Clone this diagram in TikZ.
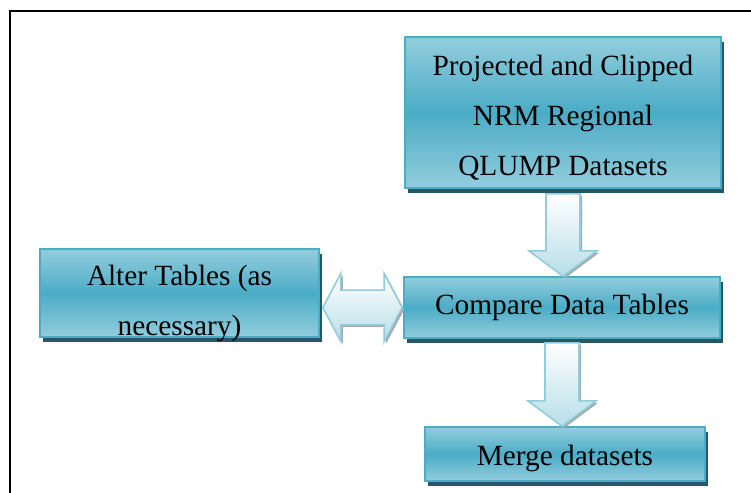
\documentclass[tikz,border=0pt]{standalone}
\usepackage{fontspec}
\setmainfont{Liberation Serif}
\usetikzlibrary{calc,shadows}

\definecolor{boxlight}{HTML}{93CDDD}
\definecolor{boxmid}{HTML}{4BACC6}
\definecolor{boxshade}{HTML}{215968}
\definecolor{flowlight}{HTML}{B7DEE8}
\definecolor{flowedge}{HTML}{92CDDC}
\definecolor{flowshade}{HTML}{A3ABAE}

\begin{document}
\begin{tikzpicture}[x=0.75pt,y=0.75pt,
    box/.style={draw=boxmid,line width=1.2pt,
      top color=boxlight,bottom color=boxlight,middle color=boxmid,
      drop shadow={shadow xshift=2.5pt,shadow yshift=-4pt,fill=boxshade,opacity=1},
      inner sep=0pt},
    txt/.style={font=\fontsize{22}{37.5}\selectfont,align=center,inner sep=0pt},
    flow/.style={draw=flowedge,line width=1.2pt,line join=miter,
      top color=white,bottom color=flowlight,
      drop shadow={shadow xshift=1.5pt,shadow yshift=-1.5pt,fill=flowshade,opacity=1}}]
    \useasboundingbox (0,0) rectangle (751,-493);
    % frame
    \draw[line width=1.5pt] (10,-493) -- (10,-11) -- (751,-11);

    % boxes
    \node[box,minimum width=237pt,minimum height=113.25pt] (proj) at (563,-112.5) {};
    \node[box,minimum width=209.25pt,minimum height=66pt] (alter) at (179.5,-293) {};
    \node[box,minimum width=237pt,minimum height=45.75pt] (compare) at (562,-307.5) {};
    \node[box,minimum width=210pt,minimum height=40.5pt] (merge) at (565,-454) {};

    % box texts
    \node[txt] at ([yshift=-3.75pt]proj.center) {Projected and Clipped\\NRM Regional\\QLUMP Datasets};
    \node[txt] at ([yshift=-7.5pt]alter.center) {Alter Tables (as\\necessary)};
    \node[txt] at (compare.center) {Compare Data Tables};
    \node[txt] at ([yshift=-3pt]merge.center) {Merge datasets};

    % block arrows
    \path[flow] let \p1=(proj.south), \p2=(compare.north) in
      ({\x1-12.75pt},{\y1-3.75pt}) -- ({\x1+12.75pt},{\y1-3.75pt})
      -- ({\x1+12.75pt},{\y2+19pt}) -- ({\x1+25.5pt},{\y2+19pt}) -- (\x1,\y2)
      -- ({\x1-25.5pt},{\y2+19pt}) -- ({\x1-12.75pt},{\y2+19pt}) -- cycle;
    \path[flow] let \p1=(compare.south), \p2=(merge.north) in
      ({\x1-12.75pt},{\y1-3pt}) -- ({\x1+12.75pt},{\y1-3pt})
      -- ({\x1+12.75pt},{\y2+19pt}) -- ({\x1+25.5pt},{\y2+19pt}) -- (\x1,\y2)
      -- ({\x1-25.5pt},{\y2+19pt}) -- ({\x1-12.75pt},{\y2+19pt}) -- cycle;
    \path[flow] let \p1=(alter.east), \p2=(compare.west) in
      ({\x1+2.25pt},\y2) -- ({\x1+15.75pt},{\y2+25.5pt}) -- ({\x1+15.75pt},{\y2+13pt})
      -- ({\x2-14.25pt},{\y2+13pt}) -- ({\x2-14.25pt},{\y2+25.5pt}) -- ({\x2-0.75pt},\y2)
      -- ({\x2-14.25pt},{\y2-25.5pt}) -- ({\x2-14.25pt},{\y2-13pt})
      -- ({\x1+15.75pt},{\y2-13pt}) -- ({\x1+15.75pt},{\y2-25.5pt}) -- cycle;
\end{tikzpicture}
\end{document}
